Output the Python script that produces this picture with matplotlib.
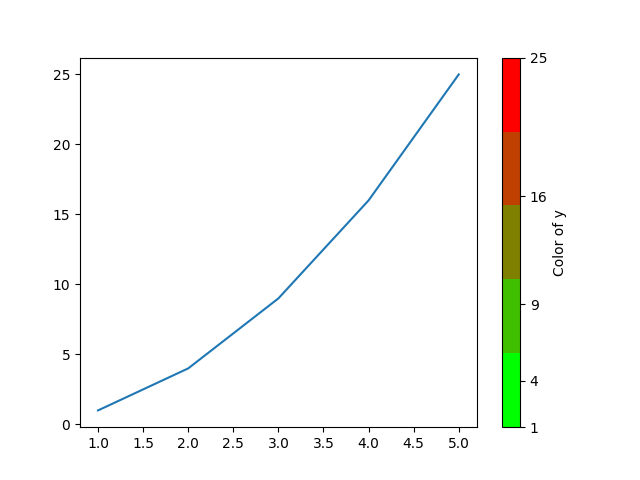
import matplotlib
matplotlib.use("Agg")
import matplotlib.pyplot as plt
from matplotlib.colors import LinearSegmentedColormap, Normalize
from matplotlib.cm import ScalarMappable

# dados
x = [1, 2, 3, 4, 5]
y = [1, 4, 9, 16, 25]
cores_extremos = [(0, 1, 0), (1, 0, 0)]
n_cores = 5

fig, ax = plt.subplots(figsize=(6.4, 4.8), dpi=100)
ax.plot(x, y)

cmap = LinearSegmentedColormap.from_list("verde_vermelho", cores_extremos, N=n_cores)
sm = ScalarMappable(norm=Normalize(vmin=min(y), vmax=max(y)), cmap=cmap)
sm.set_array([])
cbar = fig.colorbar(sm, ax=ax, ticks=y)
cbar.set_label("Color of y")

fig.savefig("out.png", dpi=100)
